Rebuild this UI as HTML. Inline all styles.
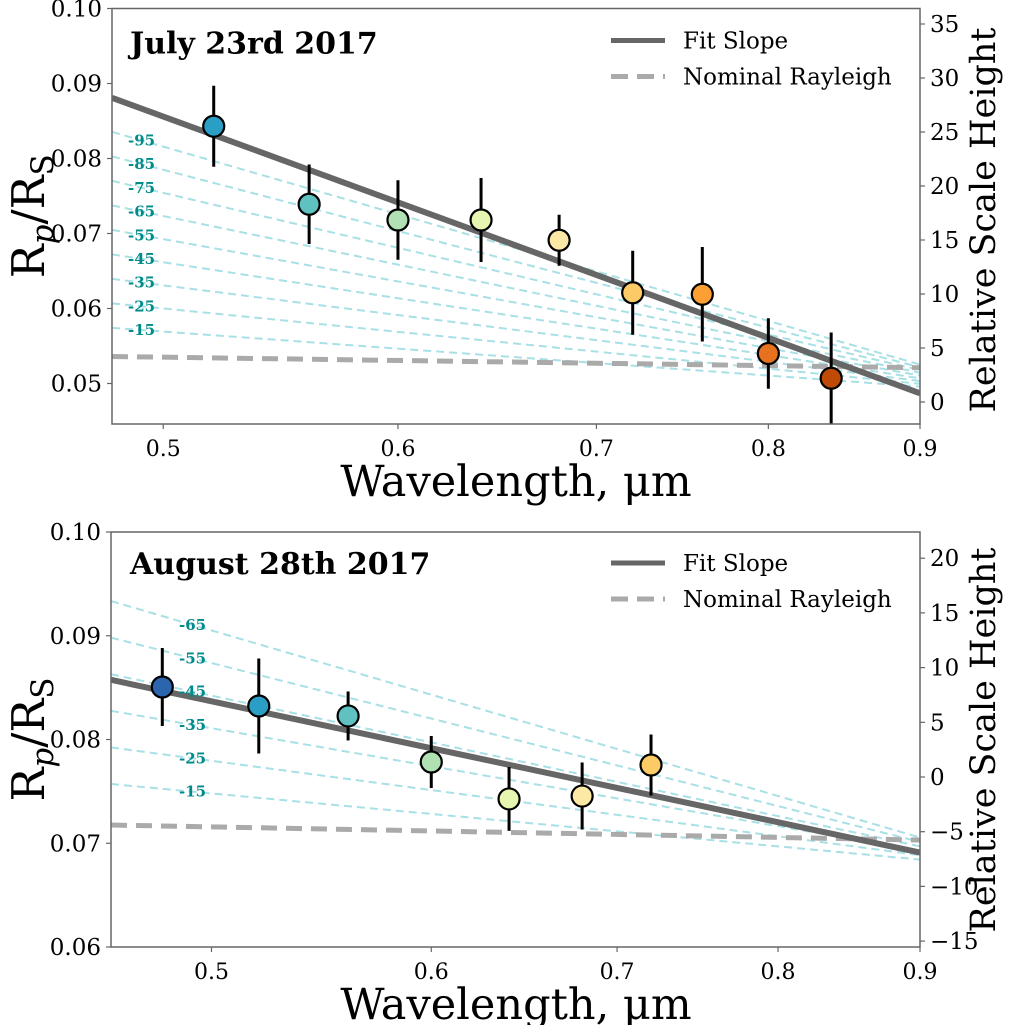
<!DOCTYPE html>
<html><head><meta charset="utf-8"><style>
body{margin:0;background:#fff}
svg{display:block;font-family:"DejaVu Serif","Liberation Serif",serif}
</style></head><body>
<svg id="c" width="1020" height="1025" xmlns="http://www.w3.org/2000/svg"></svg>
<script>
// ---- Panel 1 data (July 23rd 2017) ----
const wl1 = [0.52,0.56,0.60,0.64,0.68,0.72,0.76,0.80,0.84];
const rp1 = [0.0843,0.0739,0.0718,0.0718,0.0691,0.0621,0.0619,0.0540,0.0507];
const err1 = [0.0054,0.0053,0.0053,0.0056,0.0034,0.0056,0.0063,0.0047,0.0061];
const col1 = ["#2b9ec6","#5fc2c0","#b0e0b4","#e6f5b0","#fde9a6","#fdcb65","#fca034","#e6711e","#bf4a06"];
const fit1 = [0.04208,-0.06278];      // intercept, slope vs ln(wavelength)
const ray1 = [0.05185,-0.00239];
const scale1 = [-95,-85,-75,-65,-55,-45,-35,-25,-15];
const yTicks1 = [0.05,0.06,0.07,0.08,0.09,0.10];
const rTicks1 = [0,5,10,15,20,25,30,35];
// ---- Panel 2 data (August 28th 2017) ----
const wl2 = [0.48,0.52,0.56,0.60,0.64,0.68,0.72];
const rp2 = [0.08506,0.08323,0.08227,0.07783,0.07427,0.07455,0.07754];
const err2 = [0.00376,0.00458,0.00236,0.00251,0.00308,0.00323,0.00294];
const col2 = ["#2a65ad","#2b9ec6","#5fc2c0","#b0e0b4","#e6f5b0","#fde9a6","#fdcb65"];
const fit2 = [0.06649,-0.0248];
const ray2 = [0.07008,-0.00216];
const scale2 = [-65,-55,-45,-35,-25,-15];
const yTicks2 = [0.06,0.07,0.08,0.09,0.10];
const rTicks2 = [-15,-10,-5,0,5,10,15,20];
const xTicks = [0.5,0.6,0.7,0.8,0.9];

const NS="http://www.w3.org/2000/svg";
const svg=document.getElementById('c');
function mk(tag,attrs,parent,text){const e=document.createElementNS(NS,tag);for(const k in attrs)e.setAttribute(k,attrs[k]);if(text!==undefined)e.textContent=text;(parent||svg).appendChild(e);return e;}

function panel(cfg){
  const g=mk('g',{});
  
  
  const {L,R,T,B,xmin,xmax,ymin,ymax}=cfg;
  const X=v=>L+(Math.log(v)-Math.log(xmin))/(Math.log(xmax)-Math.log(xmin))*(R-L);
  const Y=v=>B-(v-ymin)/(ymax-ymin)*(B-T);
  const Yr=v=>cfg.r0+(v)*cfg.rpx;
  const clip='clip'+cfg.id;
  const cp=mk('clipPath',{id:clip},g);mk('rect',{x:L,y:T,width:R-L,height:B-T},cp);
  const pl=mk('g',{'clip-path':'url(#'+clip+')'},g);
  const lnp=Math.log(cfg.pivot[0]);
  const sl=v=>{const s=cfg.scales[v];return x=>cfg.pivot[1]+(s-cfg.k0)*cfg.m*(Math.log(x)-lnp);};
  cfg.scales.forEach((s,i)=>{
    const f=sl(i);
    const ln=mk('line',{x1:X(xmin),y1:Y(f(xmin)),x2:X(xmax),y2:Y(f(xmax)),stroke:'#a8e0e6','stroke-width':2,'stroke-dasharray':'8,5'},pl);
    
    
    const lx=cfg.labelX;const xv=Math.exp(Math.log(xmin)+(lx+14-L)/(R-L)*(Math.log(xmax)-Math.log(xmin)));
    const t=mk('text',{x:lx,y:Y(f(xv))+5,fill:'#008b8b','font-size':15,'font-weight':'bold'},g,String(s));
    
    
  });
  const rl=mk('line',{x1:X(xmin),y1:Y(cfg.ray[0]+cfg.ray[1]*Math.log(xmin)),x2:X(xmax),y2:Y(cfg.ray[0]+cfg.ray[1]*Math.log(xmax)),stroke:'#aaaaaa','stroke-width':5,'stroke-dasharray':'16,9'},pl);
  
  
  const fl=mk('line',{x1:X(xmin),y1:Y(cfg.fit[0]+cfg.fit[1]*Math.log(xmin)),x2:X(xmax),y2:Y(cfg.fit[0]+cfg.fit[1]*Math.log(xmax)),stroke:'#666666','stroke-width':6},pl);
  
  
  cfg.wl.forEach((w,i)=>{
    const eb=mk('line',{x1:X(w),x2:X(w),y1:Y(cfg.rp[i]+cfg.err[i]),y2:Y(cfg.rp[i]-cfg.err[i]),stroke:'#000','stroke-width':3},pl);
    
    
    const c=mk('circle',{cx:X(w),cy:Y(cfg.rp[i]),r:10.5,fill:cfg.col[i],stroke:'#000','stroke-width':2.2},pl);
    
    
  });
  const fr=mk('rect',{x:L,y:T,width:R-L,height:B-T,fill:'none',stroke:'#666','stroke-width':1.5},g);
  
  
  xTicks.forEach(v=>{const x=X(v);mk('line',{x1:x,x2:x,y1:B,y2:B+5,stroke:'#666','stroke-width':1.2},g);
    const t=mk('text',{x:x,y:B+32,'text-anchor':'middle','font-size':22},g,String(v));
    
    });
  cfg.yTicks.forEach(v=>{const y=Y(v);mk('line',{x1:L-5,x2:L,y1:y,y2:y,stroke:'#666','stroke-width':1.2},g);
    const t=mk('text',{x:L-10,y:y+8,'text-anchor':'end','font-size':23},g,v.toFixed(2));
    
    });
  cfg.rTicks.forEach(v=>{const y=Yr(v);mk('line',{x1:R,x2:R+5,y1:y,y2:y,stroke:'#666','stroke-width':1.2},g);
    const t=mk('text',{x:R+10,y:y+8,'font-size':23},g,v<0?'\u2212'+Math.abs(v):String(v));
    
    });
  const tt=mk('text',{x:130,y:T+cfg.titleDy,'font-size':30,'font-weight':'bold'},g,cfg.title);
  
  
  const xl=mk('text',{x:516,y:B+72,'text-anchor':'middle','font-size':43},g,'Wavelength, \u03bcm');
  
  
  const cy=(T+B)/2;
  const yl=mk('text',{x:0,y:0,'text-anchor':'middle','font-size':45,transform:`translate(44,${cy}) rotate(-90)`},g);
  
  
  mk('tspan',{},yl,'R');mk('tspan',{'font-size':31,dy:9,'font-style':'italic'},yl,'p');mk('tspan',{dy:-9},yl,'/R');mk('tspan',{'font-size':31,dy:9},yl,'S');
  const rl2=mk('text',{x:0,y:0,'text-anchor':'middle','font-size':35,transform:`translate(995,${cfg.rlabelY}) rotate(-90)`},g,'Relative Scale Height');
  
  
  const lg=mk('g',{},g);
  
  
  const ly=T+cfg.legDy;
  mk('line',{x1:611,x2:665,y1:ly,y2:ly,stroke:'#666','stroke-width':5},lg);
  mk('text',{x:683,y:ly+8,'font-size':23},lg,'Fit Slope');
  mk('line',{x1:611,x2:665,y1:ly+36,y2:ly+36,stroke:'#aaa','stroke-width':5,'stroke-dasharray':'17,9'},lg);
  mk('text',{x:683,y:ly+44,'font-size':23},lg,'Nominal Rayleigh');
}
panel({id:1,name:'panel-july-2017',L:112,R:920,T:8.5,B:424,xmin:0.4805,xmax:0.9,ymin:0.10-415.5/7500,ymax:0.10,
  wl:wl1,rp:rp1,err:err1,col:col1,fit:fit1,ray:ray1,scales:scale1,pivot:[0.9744,0.0486],k0:12,m:0.000462,labelX:128,
  yTicks:yTicks1,rTicks:rTicks1,r0:402,rpx:-10.8,title:'July 23rd 2017',titleDy:45,legDy:32,rlabelY:220});
panel({id:2,name:'panel-august-2017',L:111,R:920,T:532,B:947,xmin:0.46,xmax:0.9,ymin:0.06,ymax:0.10,
  wl:wl2,rp:rp2,err:err2,col:col2,fit:fit2,ray:ray2,scales:scale2,pivot:[0.987,0.06742],k0:8.5,m:0.000462,labelX:179,
  yTicks:yTicks2,rTicks:rTicks2,r0:777,rpx:-10.94,title:'August 28th 2017',titleDy:42,legDy:31,rlabelY:740});
</script>
</body></html>
